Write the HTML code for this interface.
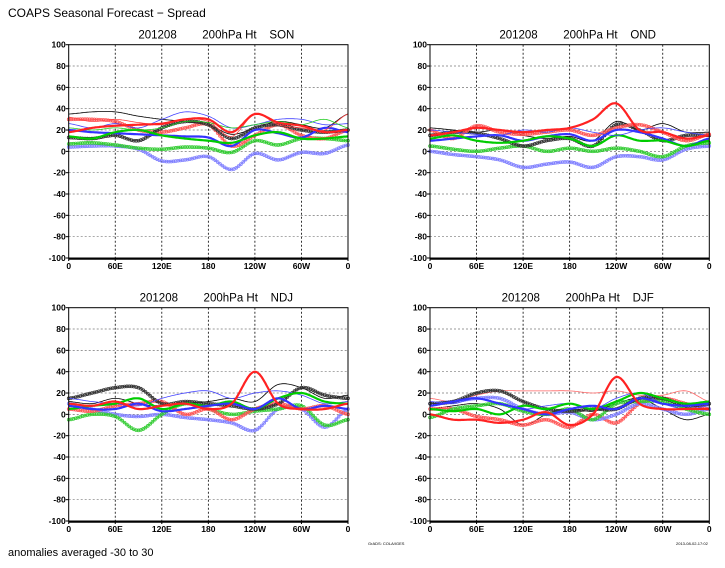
<!DOCTYPE html>
<html><head><meta charset="utf-8"><style>
html,body{margin:0;padding:0;background:#fff;}
svg{display:block;font-family:"Liberation Sans",sans-serif;}
.tt{white-space:pre;}
</style></head><body>
<svg id="s" width="725" height="568" xmlns="http://www.w3.org/2000/svg">
<text x="8" y="17" font-size="12">COAPS Seasonal Forecast − Spread</text>
<text x="8" y="556" font-size="11">anomalies averaged -30 to 30</text>
<text x="368" y="545" font-size="4">GrADS: COLA/IGES</text>
<text x="676" y="545" font-size="4">2013-08-02-17:02</text>
</svg>
<script>
var S=document.getElementById('s'),NS='http://www.w3.org/2000/svg';
function el(t,a,txt){var e=document.createElementNS(NS,t);for(var k in a)e.setAttribute(k,a[k]);if(txt!=null)e.textContent=txt;S.appendChild(e);return e;}
var panels=[
{x:68.7,y:44.7,t:'SON',s:[
['#000','thin',[35,37,37,33,30,28,25,16,22,28,25,22,35]],
['#8080ff','circ',[4,5,5,2,-9,-8,-5,-17,-2,-8,-1,-2,6]],
['#33cc33','circ',[7,8,6,3,2,4,3,-1,10,6,12,12,10]],
['#ff5555','circ',[30,30,28,20,18,22,25,5,15,25,15,12,20]],
['#333','circ',[13,12,15,10,22,28,25,12,22,25,20,18,20]],
['#3333ff','thick',[20,18,17,16,15,14,13,5,20,17,13,22,18]],
['#00cc00','thick',[14,12,18,20,15,12,10,8,15,18,12,12,14]],
['#ff4444','thin',[32,28,30,27,25,30,28,14,35,25,22,20,35]],
['#4444ff','thin',[26,22,26,22,30,37,33,22,25,30,30,25,26]],
['#22cc22','thin',[22,20,22,20,22,28,27,22,25,28,25,30,22]],
['#ff2222','thick',[18,22,24,25,26,30,30,18,35,27,24,18,20]]]},
{x:430,y:44.7,t:'OND',s:[
['#000','thin',[22,20,18,20,15,12,14,10,28,20,26,18,18]],
['#8080ff','circ',[0,-3,-5,-8,-15,-12,-10,-15,-5,-5,-8,2,5]],
['#33cc33','circ',[5,2,0,3,5,0,3,0,3,0,-5,5,8]],
['#333','circ',[15,18,17,12,5,10,12,5,25,20,10,15,15]],
['#ff5555','circ',[20,12,24,18,16,18,20,15,22,25,18,10,16]],
['#3333ff','thick',[10,12,14,15,10,14,16,10,20,18,12,5,12]],
['#00cc00','thick',[12,15,10,8,10,14,12,5,15,10,10,5,10]],
['#4444ff','thin',[20,18,16,15,20,18,22,18,15,20,22,18,15]],
['#ff2222','thick',[15,18,22,20,18,20,22,30,45,20,18,12,15]]]},
{x:68.7,y:307.7,t:'NDJ',s:[
['#000','thin',[12,10,15,10,8,10,12,15,12,28,25,15,18]],
['#8080ff','circ',[10,5,0,-2,0,-3,-5,-8,-15,5,5,-12,5]],
['#33cc33','circ',[-5,0,-2,-15,0,10,5,0,3,5,8,-10,-5]],
['#ff5555','circ',[5,3,8,10,12,0,5,-5,5,10,5,8,0]],
['#333','circ',[15,20,25,25,10,12,10,8,5,10,25,18,15]],
['#4444ff','thin',[15,12,10,8,15,20,22,15,20,22,18,10,12]],
['#00cc00','thick',[5,8,10,15,5,10,8,12,5,15,20,12,10]],
['#3333ff','thick',[8,5,5,10,3,5,8,10,5,15,5,8,5]],
['#ff2222','thick',[10,8,12,5,8,10,5,10,40,10,5,5,10]]]},
{x:430,y:307.7,t:'DJF',s:[
['#000','thin',[5,8,10,5,-10,0,5,3,10,15,5,-5,0]],
['#ff6666','thin',[15,12,18,22,22,22,22,20,22,18,18,22,12]],
['#ff5555','circ',[5,5,-2,-5,-10,-5,-12,0,-8,10,15,10,5]],
['#8080ff','circ',[10,12,15,15,5,0,2,-5,0,10,5,0,5]],
['#33cc33','circ',[-3,5,8,10,3,0,5,-5,10,12,12,5,0]],
['#333','circ',[10,12,20,22,12,5,3,5,5,15,15,8,10]],
['#4444ff','thin',[12,10,15,10,5,8,10,5,15,20,10,5,8]],
['#00cc00','thick',[5,3,5,0,8,5,10,5,12,20,15,10,12]],
['#3333ff','thick',[8,12,15,10,5,0,5,8,5,15,10,8,10]],
['#ff2222','thick',[0,-5,-5,-8,-5,2,-10,0,35,10,5,5,5]]]}];
var W=279.3,H=213.3;
panels.forEach(function(p){
 var X=p.x,Y=p.y;
 el('text',{x:X+W/2+8,y:Y-6,'font-size':11.5,'text-anchor':'middle','class':'tt'},'201208        200hPa Ht    '+p.t);
 for(var v=-80;v<=80;v+=20){var yy=Y+H*(100-v)/200;el('line',{x1:X,x2:X+W,y1:yy,y2:yy,stroke:'#777','stroke-width':0.7,'stroke-dasharray':'2,2'});}
 for(var i=1;i<6;i++){var xx=X+W*i/6;el('line',{x1:xx,x2:xx,y1:Y,y2:Y+H,stroke:'#000','stroke-width':0.8,'stroke-dasharray':'2,2'});}
 p.s.forEach(function(sr){
  var v=sr[2],pts=[];
  for(var i=0;i<12;i++){var p0=v[Math.max(i-1,0)],p1=v[i],p2=v[i+1],p3=v[Math.min(i+2,12)];
   for(var t=0;t<1;t+=0.05){var t2=t*t,t3=t2*t;var y=0.5*((2*p1)+(-p0+p2)*t+(2*p0-5*p1+4*p2-p3)*t2+(-p0+3*p1-3*p2+p3)*t3);pts.push([X+W*(i+t)/12,Y+H*(100-y)/200]);}}
  pts.push([X+W,Y+H*(100-v[12])/200]);
  var d='M'+pts.map(function(q){return q[0].toFixed(1)+','+q[1].toFixed(1)}).join('L');
  if(sr[1]=='thin')el('path',{d:d,fill:'none',stroke:sr[0],'stroke-width':0.8});
  else if(sr[1]=='thick')el('path',{d:d,fill:'none',stroke:sr[0],'stroke-width':2.2});
  else{el('path',{d:d,fill:'none',stroke:sr[0],'stroke-width':1});
   for(var k=0;k<pts.length;k+=2)el('circle',{cx:pts[k][0],cy:pts[k][1],r:1.4,fill:'none',stroke:sr[0],'stroke-width':0.8});}
 });
 el('rect',{x:X,y:Y,width:W,height:H,fill:'none',stroke:'#000','stroke-width':1});
 el('line',{x1:X,x2:X+W,y1:Y+H+1,y2:Y+H+1,stroke:'#000','stroke-width':1.5});
 for(var v=-100;v<=100;v+=20){var yy=Y+H*(100-v)/200;el('line',{x1:X-3,x2:X,y1:yy,y2:yy,stroke:'#000'});
  el('text',{x:X-3,y:yy+3,'font-size':8.5,'font-weight':'bold','text-anchor':'end'},String(v));}
 var lab=['0','60E','120E','180','120W','60W','0'];
 for(var i=0;i<7;i++){var xx=X+W*i/6;el('line',{x1:xx,x2:xx,y1:Y+H,y2:Y+H+3,stroke:'#000'});
  el('text',{x:xx,y:Y+H+11,'font-size':8.5,'font-weight':'bold','text-anchor':'middle'},lab[i]);}
});
</script>
</body></html>
